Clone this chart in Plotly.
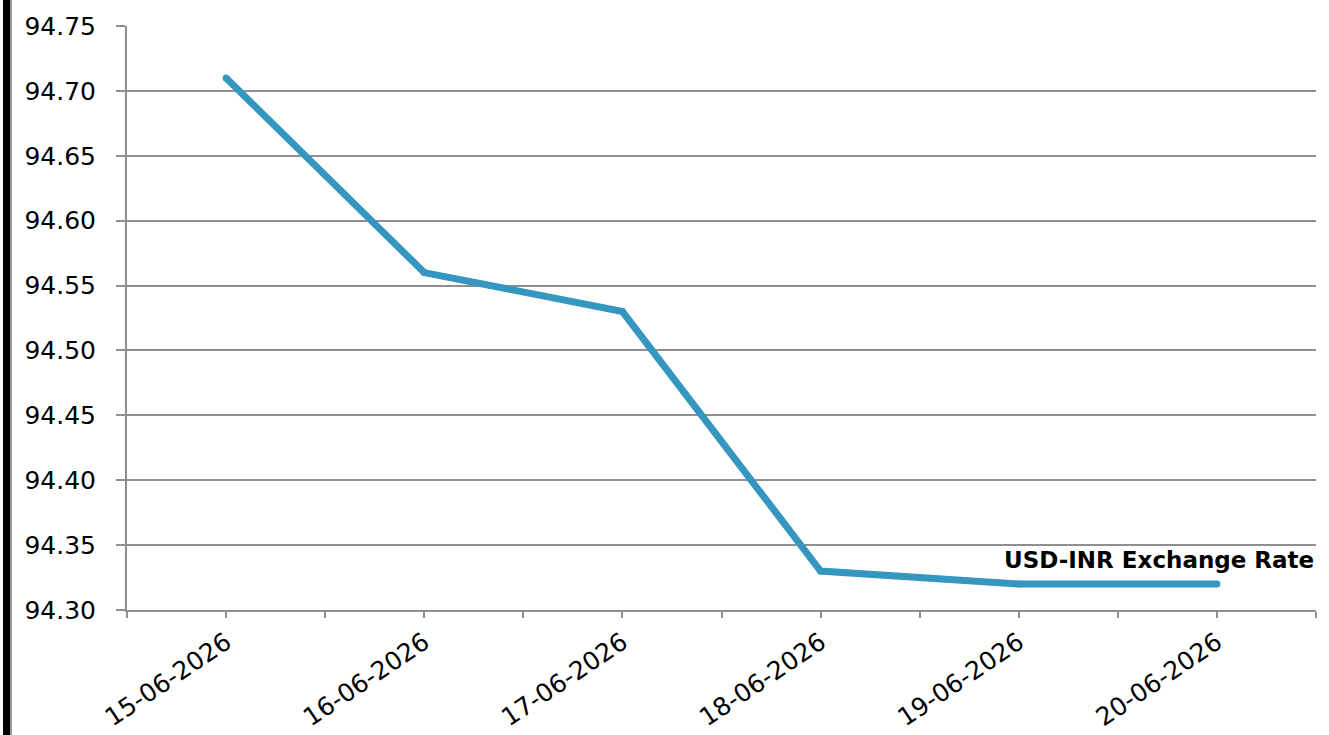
import plotly.graph_objects as go

# USD-INR daily exchange rate
dates = ["15-06-2026", "16-06-2026", "17-06-2026", "18-06-2026", "19-06-2026", "20-06-2026"]
rates = [94.71, 94.56, 94.53, 94.33, 94.32, 94.32]
y_ticks = [94.30, 94.35, 94.40, 94.45, 94.50, 94.55, 94.60, 94.65, 94.70, 94.75]
series_name = "USD-INR Exchange Rate"

positions = list(range(len(dates)))

# ticks at each category centre and each category boundary
tick_vals = []
tick_text = []
for i, d in enumerate(dates):
    tick_vals += [i - 0.5, i]
    tick_text += ["", d]
tick_vals.append(len(dates) - 0.5)
tick_text.append("")

FONT = "DejaVu Sans, Verdana, sans-serif"
GRID = "#8f8f8f"
LINE = "#3596bf"

fig = go.Figure()
fig.add_trace(go.Scatter(
    x=positions, y=rates, mode="lines+markers", name=series_name,
    line=dict(color=LINE, width=7),
    marker=dict(color=LINE, size=7, line=dict(width=0)),
    hoverinfo="x+y",
))

fig.add_annotation(
    x=len(dates) - 0.5, y=rates[-1], xref="x", yref="y",
    text=f"<b>{series_name}</b>", showarrow=False,
    xanchor="right", yanchor="bottom", yshift=9,
    font=dict(family=FONT, size=23, color="#000000"),
)

# dark frame edge on the left
fig.add_shape(type="rect", xref="paper", yref="paper",
              x0=(3 - 127) / 1189, x1=(10 - 127) / 1189, y0=-0.3, y1=1.1,
              fillcolor="#000000", line=dict(width=0), layer="above")
fig.add_shape(type="rect", xref="paper", yref="paper",
              x0=(10 - 127) / 1189, x1=(12 - 127) / 1189, y0=-0.3, y1=1.1,
              fillcolor="#9a9a9a", line=dict(width=0), layer="above")

fig.update_layout(
    width=1329, height=735,
    margin=dict(l=127, r=13, t=26, b=125),
    paper_bgcolor="#ffffff", plot_bgcolor="#ffffff",
    showlegend=False,
    font=dict(family=FONT, color="#000000"),
    xaxis=dict(
        range=[-0.5, len(dates) - 0.5],
        tickmode="array", tickvals=tick_vals, ticktext=tick_text,
        tickangle=-34, ticks="outside", ticklen=6, tickwidth=2, tickcolor=GRID,
        showgrid=False, zeroline=False, automargin=False,
        showline=True, linecolor=GRID, linewidth=2,
        tickfont=dict(family=FONT, size=25, color="#000000"),
        ticklabelstandoff=0,
    ),
    yaxis=dict(
        range=[94.30, 94.75],
        tickmode="array", tickvals=y_ticks,
        ticktext=[f"{v:.2f}" for v in y_ticks],
        ticks="outside", ticklen=9, tickwidth=2, tickcolor=GRID,
        showgrid=True, gridcolor=GRID, gridwidth=2,
        zeroline=False, showline=True, linecolor=GRID, linewidth=2,
        automargin=False,
        tickfont=dict(family=FONT, size=25, color="#000000"),
        ticklabelstandoff=15,
    ),
)

fig.write_html("out.html")
